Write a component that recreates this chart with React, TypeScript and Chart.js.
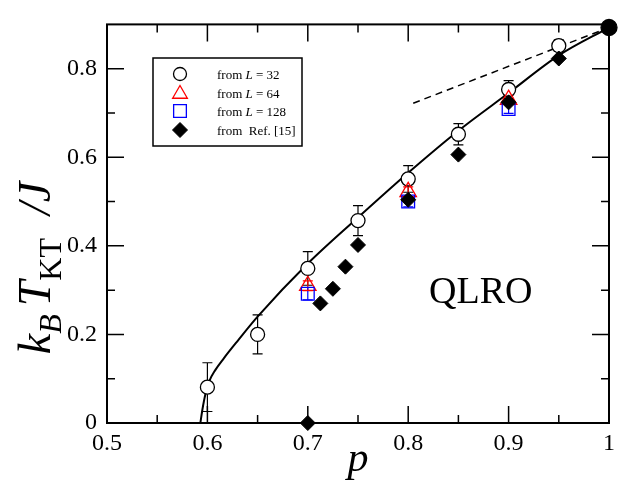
import React, { useEffect, useRef } from "react";
import { Chart, registerables } from "chart.js";

Chart.register(...registerables);

// ---- data ----
const pL32 = [0.6, 0.65, 0.7, 0.75, 0.8, 0.85, 0.9, 0.95, 1.0];
const tL32 = [0.081, 0.2, 0.349, 0.457, 0.551, 0.652, 0.753, 0.852, 0.893];
const eL32 = [0.055, 0.044, 0.038, 0.034, 0.03, 0.024, 0.02, 0.013, 0];

const pL64 = [0.7, 0.8, 0.9];
const tL64 = [0.31, 0.522, 0.73];
const eL64 = [0.011, 0.011, 0.01];

const pL128 = [0.7, 0.8, 0.9];
const tL128 = [0.292, 0.5, 0.709];
const eL128 = [0.014, 0.012, 0.01];

const pRef = [0.7, 0.7125, 0.725, 0.7375, 0.75, 0.8, 0.85, 0.9, 0.95];
const tRef = [0, 0.27, 0.303, 0.353, 0.402, 0.504, 0.606, 0.724, 0.823];

const pCurve = [0.593, 0.595, 0.598, 0.602, 0.608, 0.616, 0.63, 0.65, 0.7, 0.75, 0.8, 0.85, 0.9, 0.95, 1.0];
const tCurve = [0, 0.03, 0.065, 0.095, 0.12, 0.145, 0.185, 0.24, 0.36, 0.464, 0.565, 0.66, 0.745, 0.83, 0.893];

const pDash = [0.805, 1.0];
const tDash = [0.722, 0.893];

const legendLabels = ["32", "64", "128"];
const refLabel = "from  Ref. [15]";

const SERIF = "'Liberation Serif', 'DejaVu Serif', serif";

const pts = (xs: number[], ys: number[]) => xs.map((x, i) => ({ x, y: ys[i] }));

function drawMarker(ctx: CanvasRenderingContext2D, kind: string, x: number, y: number, r: number, stroke: string, fill: string | null, lw: number) {
  ctx.save();
  ctx.beginPath();
  if (kind === "circle") {
    ctx.arc(x, y, r, 0, Math.PI * 2);
  } else if (kind === "triangle") {
    for (let k = 0; k < 3; k++) {
      const a = -Math.PI / 2 + (k * 2 * Math.PI) / 3;
      const px = x + Math.cos(a) * r;
      const py = y + Math.sin(a) * r;
      if (k === 0) ctx.moveTo(px, py);
      else ctx.lineTo(px, py);
    }
    ctx.closePath();
  } else if (kind === "rect") {
    const h = r * Math.SQRT1_2;
    ctx.rect(x - h, y - h, 2 * h, 2 * h);
  } else if (kind === "diamond") {
    ctx.moveTo(x, y - r);
    ctx.lineTo(x + r, y);
    ctx.lineTo(x, y + r);
    ctx.lineTo(x - r, y);
    ctx.closePath();
  }
  if (fill) {
    ctx.fillStyle = fill;
    ctx.fill();
  }
  ctx.lineWidth = lw;
  ctx.strokeStyle = stroke;
  ctx.stroke();
  ctx.restore();
}

const overlayPlugin = {
  id: "overlay",
  beforeDatasetsDraw(chart: any) {
    const { ctx } = chart;
    const xs = chart.scales.x;
    const ys = chart.scales.y;
    const bars = (p: number[], t: number[], e: number[], color: string) => {
      ctx.save();
      ctx.strokeStyle = color;
      ctx.lineWidth = 1.2;
      p.forEach((pv, i) => {
        if (!e[i]) return;
        const x = xs.getPixelForValue(pv);
        const y1 = ys.getPixelForValue(t[i] + e[i]);
        const y2 = ys.getPixelForValue(t[i] - e[i]);
        ctx.beginPath();
        ctx.moveTo(x, y1);
        ctx.lineTo(x, y2);
        ctx.moveTo(x - 5, y1);
        ctx.lineTo(x + 5, y1);
        ctx.moveTo(x - 5, y2);
        ctx.lineTo(x + 5, y2);
        ctx.stroke();
      });
      ctx.restore();
    };
    bars(pL32, tL32, eL32, "#000");
    bars(pL64, tL64, eL64, "#ff0000");
    bars(pL128, tL128, eL128, "#0000ff");
  },
  afterDatasetsDraw(chart: any) {
    const { ctx, chartArea: a } = chart;
    const xs = chart.scales.x;
    const ys = chart.scales.y;
    ctx.save();
    // frame
    ctx.strokeStyle = "#000";
    ctx.lineWidth = 2;
    ctx.strokeRect(a.left, a.top, a.right - a.left, a.bottom - a.top);
    // inward ticks
    ctx.lineWidth = 1.5;
    const major = 17;
    const minor = 8;
    const xv = xs.ticks.map((t: any) => t.value);
    ctx.beginPath();
    xv.forEach((v: number, i: number) => {
      const px = xs.getPixelForValue(v);
      ctx.moveTo(px, a.bottom);
      ctx.lineTo(px, a.bottom - major);
      ctx.moveTo(px, a.top);
      ctx.lineTo(px, a.top + major);
      if (i < xv.length - 1) {
        const mx = xs.getPixelForValue((v + xv[i + 1]) / 2);
        ctx.moveTo(mx, a.bottom);
        ctx.lineTo(mx, a.bottom - minor);
        ctx.moveTo(mx, a.top);
        ctx.lineTo(mx, a.top + minor);
      }
    });
    const yv = ys.ticks.map((t: any) => t.value);
    yv.forEach((v: number, i: number) => {
      const py = ys.getPixelForValue(v);
      ctx.moveTo(a.left, py);
      ctx.lineTo(a.left + major, py);
      ctx.moveTo(a.right, py);
      ctx.lineTo(a.right - major, py);
      const nv = i < yv.length - 1 ? (v + yv[i + 1]) / 2 : v + (v - yv[i - 1]) / 2;
      if (nv <= ys.max) {
        const my = ys.getPixelForValue(nv);
        ctx.moveTo(a.left, my);
        ctx.lineTo(a.left + minor, my);
        ctx.moveTo(a.right, my);
        ctx.lineTo(a.right - minor, my);
      }
    });
    ctx.stroke();

    // legend
    const lx = 153, ly = 58, lw = 149, lh = 88;
    ctx.fillStyle = "#fff";
    ctx.fillRect(lx, ly, lw, lh);
    ctx.lineWidth = 1.5;
    ctx.strokeStyle = "#000";
    ctx.strokeRect(lx, ly, lw, lh);
    const rows = [74, 93, 111, 130];
    const symX = 180;
    drawMarker(ctx, "circle", symX, rows[0], 6.5, "#000", "#fff", 1.3);
    drawMarker(ctx, "triangle", symX, rows[1] + 1, 8.5, "#ff0000", null, 1.3);
    drawMarker(ctx, "rect", symX, rows[2], 9, "#0000ff", null, 1.3);
    drawMarker(ctx, "diamond", symX, rows[3], 7.5, "#000", "#000", 1);
    ctx.fillStyle = "#000";
    ctx.textBaseline = "alphabetic";
    ctx.textAlign = "left";
    legendLabels.forEach((lab, i) => {
      let x = 217;
      const y = rows[i] + 4.5;
      ctx.font = `13px ${SERIF}`;
      ctx.fillText("from ", x, y);
      x += ctx.measureText("from ").width;
      ctx.font = `italic 13px ${SERIF}`;
      ctx.fillText("L", x, y);
      x += ctx.measureText("L").width;
      ctx.font = `13px ${SERIF}`;
      ctx.fillText(" = " + lab, x, y);
    });
    ctx.font = `13px ${SERIF}`;
    ctx.fillText(refLabel, 217, rows[3] + 4.5);

    // QLRO
    ctx.font = `38px ${SERIF}`;
    ctx.fillText("QLRO", 429, 303);

    // x title
    ctx.font = `italic 42px ${SERIF}`;
    ctx.textAlign = "center";
    ctx.fillText("p", (a.left + a.right) / 2, 471);

    // y title (rotated)
    ctx.save();
    ctx.translate(50, 268);
    ctx.rotate(-Math.PI / 2);
    const segs: [string, string, number][] = [
      ["k", `italic 46px ${SERIF}`, 0],
      ["B", `italic 32px ${SERIF}`, 11],
      [" ", `32px ${SERIF}`, 0],
      ["T", `italic 46px ${SERIF}`, 0],
      ["KT", `32px ${SERIF}`, 11],
      ["  /", `italic 46px ${SERIF}`, 0],
      ["J", `italic 46px ${SERIF}`, 0],
    ];
    let total = 0;
    segs.forEach(([s, f]) => {
      ctx.font = f;
      total += ctx.measureText(s).width;
    });
    let cx = -total / 2;
    ctx.textAlign = "left";
    segs.forEach(([s, f, dy]) => {
      ctx.font = f;
      ctx.fillText(s, cx, dy);
      cx += ctx.measureText(s).width;
    });
    ctx.restore();

    ctx.restore();
  },
};

export default function App() {
  const ref = useRef<HTMLCanvasElement | null>(null);
  useEffect(() => {
    if (!ref.current) return;
    const l32Bg = pL32.map((p) => (p === 1 ? "#000" : "#fff"));
    const l32R = pL32.map((p) => (p === 1 ? 8 : 7));
    const chart = new Chart(ref.current, {
      type: "scatter",
      data: {
        datasets: [
          {
            label: "curve",
            data: pts(pCurve, tCurve),
            showLine: true,
            borderColor: "#000",
            borderWidth: 2,
            pointRadius: 0,
            cubicInterpolationMode: "monotone",
            fill: false,
            order: 10,
          } as any,
          {
            label: "dash",
            data: pts(pDash, tDash),
            showLine: true,
            borderColor: "#000",
            borderWidth: 1.5,
            borderDash: [7, 5],
            pointRadius: 0,
            fill: false,
            order: 9,
          } as any,
          {
            label: "from L = 32",
            data: pts(pL32, tL32),
            pointStyle: "circle",
            pointRadius: l32R,
            pointBorderWidth: 1.3,
            borderColor: "#000",
            pointBorderColor: "#000",
            pointBackgroundColor: l32Bg,
            clip: false,
            order: 5,
          } as any,
          {
            label: "from L = 64",
            data: pts(pL64, tL64),
            pointStyle: "triangle",
            pointRadius: 9.5,
            pointBorderWidth: 1.3,
            pointBorderColor: "#ff0000",
            pointBackgroundColor: "rgba(0,0,0,0)",
            clip: false,
            order: 4,
          } as any,
          {
            label: "from L = 128",
            data: pts(pL128, tL128),
            pointStyle: "rect",
            pointRadius: 9,
            pointBorderWidth: 1.3,
            pointBorderColor: "#0000ff",
            pointBackgroundColor: "rgba(0,0,0,0)",
            clip: false,
            order: 3,
          } as any,
          {
            label: "from Ref. [15]",
            data: pts(pRef, tRef),
            pointStyle: "rectRot",
            pointRadius: 7.5,
            pointBorderWidth: 1,
            pointBorderColor: "#000",
            pointBackgroundColor: "#000",
            clip: false,
            order: 2,
          } as any,
        ],
      },
      options: {
        responsive: false,
        animation: false,
        layout: { padding: { top: 13, right: 14, left: 0, bottom: 0 } },
        plugins: { legend: { display: false }, tooltip: { enabled: false } },
        scales: {
          x: {
            type: "linear",
            min: 0.5,
            max: 1,
            grid: { display: false, drawTicks: false },
            border: { display: false },
            ticks: {
              stepSize: 0.1,
              padding: 6,
              color: "#000",
              font: { family: SERIF, size: 24 },
              maxRotation: 0,
              callback: (v: any) => String(Number(Number(v).toFixed(1))),
            },
            afterFit: (s: any) => {
              s.height = 61;
            },
          },
          y: {
            type: "linear",
            min: 0,
            max: 0.9,
            grid: { display: false, drawTicks: false },
            border: { display: false },
            ticks: {
              stepSize: 0.2,
              includeBounds: false,
              padding: 10,
              color: "#000",
              font: { family: SERIF, size: 24 },
              callback: (v: any) => String(Number(Number(v).toFixed(1))),
            },
            afterFit: (s: any) => {
              s.width = 107;
            },
          },
        },
      } as any,
      plugins: [overlayPlugin],
    });
    return () => chart.destroy();
  }, []);
  return (
    <div style={{ position: "absolute", left: 0, top: 0, width: 623, height: 484, background: "#fff" }}>
      <canvas ref={ref} width={623} height={484} style={{ width: 623, height: 484, display: "block" }} />
    </div>
  );
}
